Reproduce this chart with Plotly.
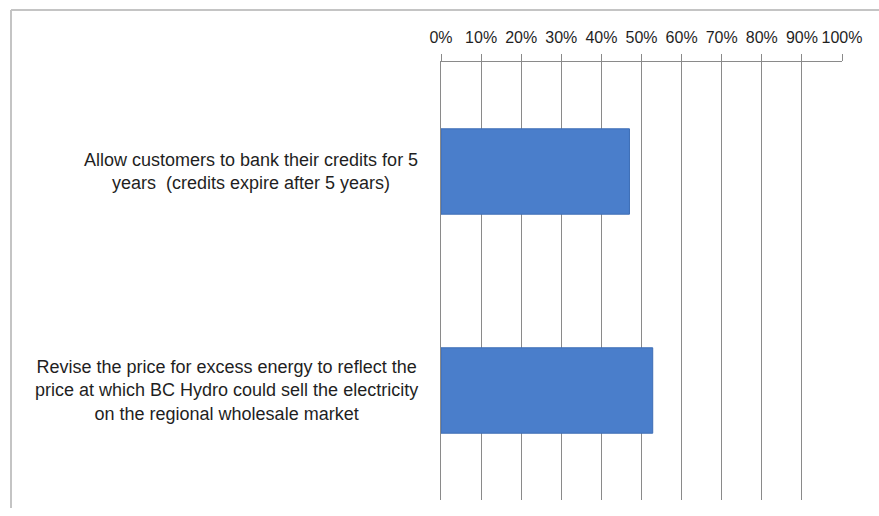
import plotly.graph_objects as go

# Survey options and share of support
options = [
    "Allow customers to bank their credits for 5<br>years  (credits expire after 5 years)",
    "Revise the price for excess energy to reflect the<br>price at which BC Hydro could sell the electricity<br>on the regional wholesale market",
]
support = [0.47, 0.528]
tick_vals = [i / 10 for i in range(11)]
tick_text = [f"{i * 10}%" for i in range(11)]

W, H = 879, 516
L, R, T, B = 441, 37, 62, 16
pw, ph = W - L - R, H - T - B

def px_x(x):
    return (x - L) / pw

def px_y(y):
    return (H - B - y) / ph

font_family = "Liberation Sans"
text_color = "#1f1f1f"

fig = go.Figure(
    go.Bar(
        x=support,
        y=list(range(len(options))),
        orientation="h",
        width=0.39,
        marker=dict(color="#4a7ecb", line=dict(color="#3d6db5", width=1)),
        hoverinfo="x",
    )
)

for i, label in enumerate(options):
    fig.add_annotation(
        x=px_x(420), xref="paper", xanchor="right",
        y=i, yref="y", yanchor="middle",
        text=label, align="center", showarrow=False,
        font=dict(family=font_family, size=18, color=text_color),
    )

# chart frame (left and top edges)
frame = dict(color="#c4c4c4", width=2)
fig.add_shape(type="line", xref="paper", yref="paper",
              x0=px_x(11), x1=px_x(11), y0=px_y(508), y1=px_y(10), line=frame)
fig.add_shape(type="line", xref="paper", yref="paper",
              x0=px_x(11), x1=px_x(885), y0=px_y(10), y1=px_y(10), line=frame)

fig.update_layout(
    width=W, height=H,
    margin=dict(l=L, r=R, t=T, b=B),
    paper_bgcolor="white", plot_bgcolor="white",
    showlegend=False,
    font=dict(family=font_family, size=16, color=text_color),
    xaxis=dict(
        side="top", range=[0, 1], tickvals=tick_vals, ticktext=tick_text,
        showgrid=True, gridcolor="#8a8a8a", gridwidth=1,
        showline=True, linecolor="#8a8a8a", linewidth=1,
        ticks="outside", ticklen=7, tickcolor="#8a8a8a",
        ticklabelstandoff=5, zeroline=False,
        tickfont=dict(family=font_family, size=16, color=text_color),
    ),
    yaxis=dict(
        range=[len(options) - 0.5, -0.5],
        showticklabels=False, showgrid=False, zeroline=False,
        showline=True, linecolor="#8a8a8a", linewidth=1,
    ),
)

fig.write_html("out.html")
